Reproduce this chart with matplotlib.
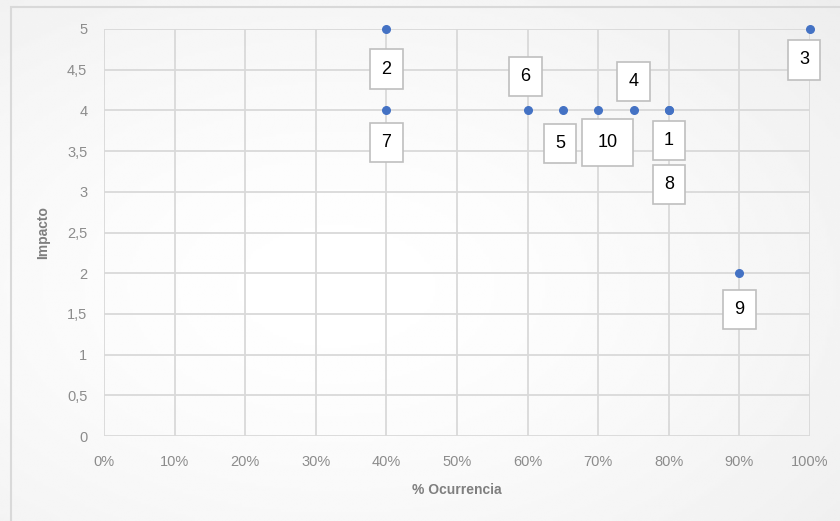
import numpy as np
import matplotlib as mpl
mpl.use('Agg')
import matplotlib.pyplot as plt
from matplotlib.patches import Rectangle
from matplotlib.ticker import FuncFormatter, MultipleLocator

# risk register: probability of occurrence vs impact
riesgos = ['1', '2', '3', '4', '5', '6', '7', '8', '9', '10']
ocurrencia = [0.80, 0.40, 1.00, 0.75, 0.65, 0.60, 0.40, 0.80, 0.90, 0.70]
impacto = [4, 5, 5, 4, 4, 4, 4, 4, 2, 4]

# label placement in pixels (dx, dy) relative to each point
offsets = {'1': (0, -30), '2': (0, -40), '3': (-6, -31), '4': (0, 29),
           '5': (-3, -33), '6': (-2, 34), '7': (0, -32), '8': (0, -74),
           '9': (0, -36), '10': (9, -32)}

plt.rcParams['font.family'] = ['Liberation Sans', 'DejaVu Sans']
grey_txt = '#8c8c8c'
grid_col = '#d9d9d9'

fig = plt.figure(figsize=(8.4, 5.21), dpi=100)

# soft radial shading behind the chart area
bg = fig.add_axes([0, 0, 1, 1], zorder=-10)
yy, xx = np.mgrid[0:1:200j, 0:1:300j]
r = np.sqrt(((xx - 0.4) / 0.9) ** 2 + ((yy - 0.45) / 0.9) ** 2)
shade = 1 - 0.08 * np.clip(r, 0, 1) ** 1.5
bg.imshow(shade, cmap='gray', vmin=0, vmax=1, extent=[0, 1, 0, 1],
          aspect='auto', origin='lower', interpolation='bilinear')
bg.set_xlim(0, 1)
bg.set_ylim(0, 1)
bg.axis('off')
fig.patches.append(Rectangle((11 / 840, -0.1), 1.2, 1 - 7 / 521 + 0.1,
                             transform=fig.transFigure, fill=False,
                             edgecolor='#d9d9d9', lw=1.5))

ax = fig.add_axes([104 / 840, 1 - 436 / 521, 706 / 840, 407 / 521])
ax.patch.set_alpha(0)
ax.set_xlim(0, 1)
ax.set_ylim(0, 5)
ax.xaxis.set_major_locator(MultipleLocator(0.1))
ax.yaxis.set_major_locator(MultipleLocator(0.5))
ax.xaxis.set_major_formatter(FuncFormatter(lambda v, p: '%d%%' % round(v * 100)))
ax.yaxis.set_major_formatter(FuncFormatter(lambda v, p: ('%g' % v).replace('.', ',')))
ax.grid(True, color=grid_col, lw=1.3)
for s in ax.spines.values():
    s.set_visible(False)
ax.tick_params(length=0, colors=grey_txt, labelsize=10.5)
ax.tick_params(axis='x', pad=14)
ax.tick_params(axis='y', pad=12)

ax.scatter(ocurrencia, impacto, s=30, color='#4472C4', zorder=5, clip_on=False)

for name, x, y in zip(riesgos, ocurrencia, impacto):
    dx, dy = offsets[name]
    pad = 0.85 if len(name) > 1 else 0.62
    ax.annotate(name, (x, y), xytext=(dx * 0.72, dy * 0.72), textcoords='offset points',
                ha='center', va='center', fontsize=13, color='black', zorder=6,
                bbox=dict(boxstyle='square,pad=%.2f' % pad, fc='white', ec='#bfbfbf', lw=1.2))

ax.set_xlabel('% Ocurrencia', color='#7f7f7f', fontsize=10, fontweight='bold', labelpad=10)
ax.set_ylabel('Impacto', color='#7f7f7f', fontsize=10, fontweight='bold', labelpad=12)

fig.savefig('out.png', dpi=100)
